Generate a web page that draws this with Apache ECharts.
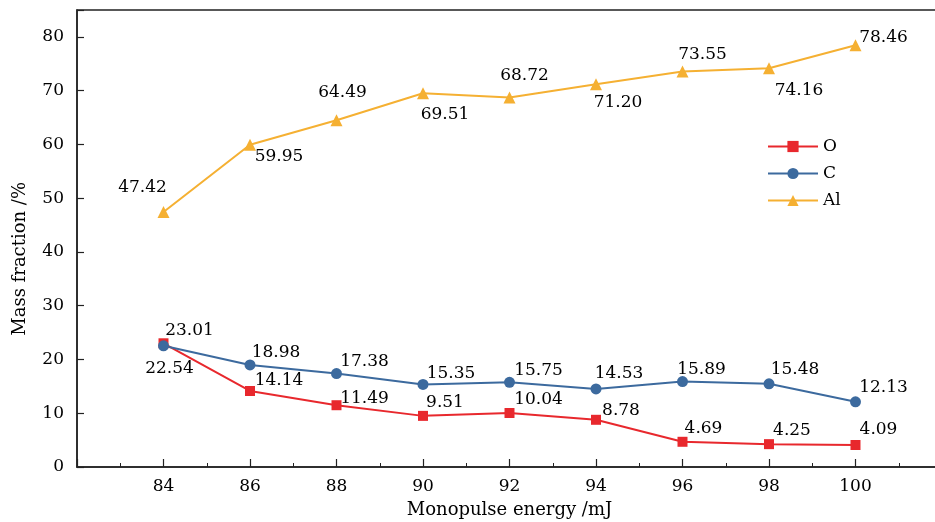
<!DOCTYPE html>
<html>
<head>
<meta charset="utf-8">
<script src="https://cdn.jsdelivr.net/npm/echarts@6/dist/echarts.min.js"></script>
<style>html,body{margin:0;padding:0;background:#fff;}#c{width:935px;height:522px;}</style>
</head>
<body>
<div id="c"></div>
<script>
const energies = [84, 86, 88, 90, 92, 94, 96, 98, 100];
const oxygen   = [23.01, 14.14, 11.49, 9.51, 10.04, 8.78, 4.69, 4.25, 4.09];
const carbon   = [22.54, 18.98, 17.38, 15.35, 15.75, 14.53, 15.89, 15.48, 12.13];
const aluminum = [47.42, 59.95, 64.49, 69.51, 68.72, 71.20, 73.55, 74.16, 78.46];
const seriesNames = ['O', 'C', 'Al'];

// label offsets (layout only), relative to the marker centre
const offO  = [[26,-13],[29,-10],[28,-7],[22,-13],[29,-13],[25,-9],[21,-13],[23,-14],[23,-15]];
const offC  = [[6,23],[26,-12],[28,-12],[28,-11],[29,-12],[23,-15],[19,-12],[26,-14],[28,-14]];
const offAl = [[-21,-24],[29,12],[6,-28],[22,21],[15,-22],[22,18],[20,-17],[30,22],[28,-8]];

const FONT = 'DejaVu Serif';
const TXT = '#000';

function build(vals, offs) {
  return vals.map((v, i) => ({
    value: [energies[i], v],
    label: { offset: offs[i] }
  }));
}
function mkSeries(name, vals, offs, color, symbol, size) {
  return {
    name: name, type: 'line', data: build(vals, offs),
    symbol: symbol, symbolSize: size,
    lineStyle: { color: color, width: 2 },
    itemStyle: { color: color },
    label: {
      show: true, position: 'inside',
      formatter: p => p.value[1].toFixed(2),
      fontFamily: FONT, fontSize: 17, color: TXT
    },
    emphasis: { disabled: true }
  };
}

const chart = echarts.init(document.getElementById('c'), null, { renderer: 'canvas' });
chart.setOption({
  animation: false,
  backgroundColor: '#fff',
  grid: {
    left: 77, top: 10, width: 865, bottom: 55,
    outerBoundsMode: 'none', containLabel: false,
    show: true, borderColor: '#222', borderWidth: 1.5
  },
  legend: {
    data: seriesNames, orient: 'vertical', left: 762, top: 133,
    itemWidth: 50, itemHeight: 14, itemGap: 10,
    textStyle: { fontFamily: FONT, fontSize: 17, color: TXT }
  },
  xAxis: {
    type: 'value', min: 82, max: 102, interval: 2,
    name: 'Monopulse energy /mJ', nameLocation: 'middle', nameGap: 34,
    nameTextStyle: { fontFamily: FONT, fontSize: 18, color: TXT },
    axisLine: { lineStyle: { color: '#222', width: 1.5 } },
    axisTick: { inside: true, length: 8, lineStyle: { color: '#222', width: 1.2 } },
    minorTick: { show: true, splitNumber: 2, length: 4, lineStyle: { color: '#222', width: 1 } },
    splitLine: { show: false },
    axisLabel: {
      margin: 11, fontFamily: FONT, fontSize: 17, color: TXT,
      formatter: v => (v < 84 || v > 100) ? '' : String(v)
    }
  },
  yAxis: {
    type: 'value', min: 0, max: 85, interval: 10,
    axisLine: { show: true, lineStyle: { color: '#222', width: 1.5 } },
    axisTick: { show: true, inside: true, length: 7, lineStyle: { color: '#222', width: 1.2 } },
    splitLine: { show: false },
    axisLabel: {
      margin: 13, fontFamily: FONT, fontSize: 17, color: TXT,
      formatter: v => v > 80 ? '' : String(v)
    }
  },
  graphic: [{
    type: 'text', left: 11, top: 182, rotation: Math.PI / 2,
    style: { text: 'Mass fraction /%', font: '18px "DejaVu Serif"', fill: TXT }
  }],
  series: [
    mkSeries('O', oxygen, offO, '#e8282d', 'rect', 10),
    mkSeries('C', carbon, offC, '#3c6a9e', 'circle', 11),
    mkSeries('Al', aluminum, offAl, '#f5b032', 'triangle', 12)
  ]
});
</script>
</body>
</html>
